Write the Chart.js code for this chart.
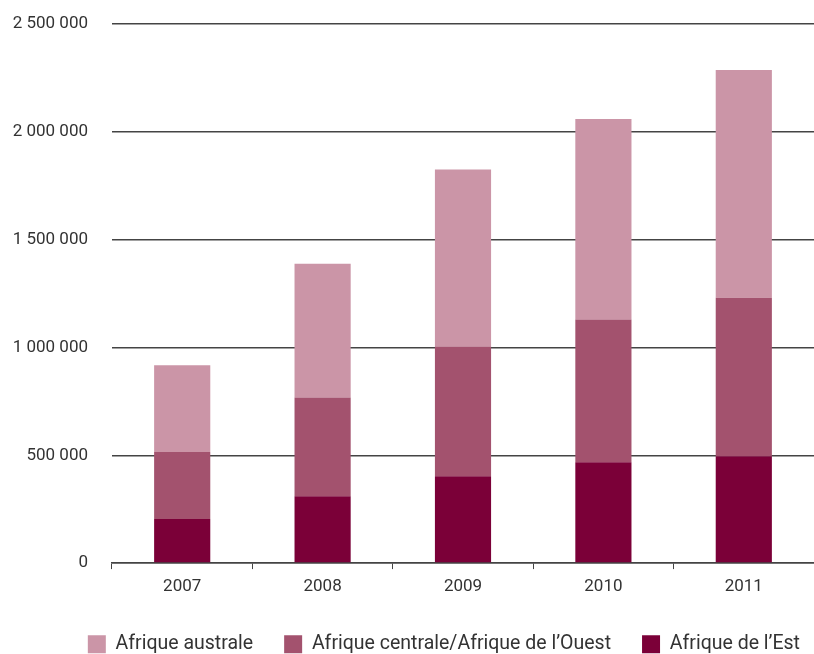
<!DOCTYPE html>
<html>
<head>
<meta charset="utf-8">
<script src="https://cdn.jsdelivr.net/npm/chart.js@4"></script>
<style>
  html, body { margin: 0; padding: 0; background: #fff; }
  #wrap { width: 814px; height: 654px; }
</style>
</head>
<body>
<div id="wrap"><canvas id="chart"></canvas></div>
<script>
const years = ["2007", "2008", "2009", "2010", "2011"];
const est = [205000, 310000, 403000, 468000, 495000];
const centrale = [310000, 458000, 602000, 662000, 736000];
const australe = [402000, 620000, 820000, 930000, 1056000];
const yTicks = [0, 500000, 1000000, 1500000, 2000000, 2500000];

const FONT = "'Liberation Sans Narrow', 'Arial Narrow', 'Roboto', sans-serif";

function fmt(v) {
    return String(v).replace(/\B(?=(\d{3})+(?!\d))/g, " ");
}

const data = {
    labels: years,
    datasets: [{
        label: "Afrique de l\u2019Est",
        data: est,
        backgroundColor: "#7b0038"
    }, {
        label: "Afrique centrale/Afrique de l\u2019Ouest",
        data: centrale,
        backgroundColor: "#a3526e"
    }, {
        label: "Afrique australe",
        data: australe,
        backgroundColor: "#cb95a7"
    }]
};

const config = {
    type: "bar",
    data: data,
    options: {
        responsive: true,
        maintainAspectRatio: false,
        animation: false,
        datasets: { bar: { barPercentage: 0.4, categoryPercentage: 1.0 } },
        layout: { padding: { top: 24, right: -17, left: 0, bottom: -10 } },
        plugins: {
            tooltip: { enabled: false },
            legend: {
                position: "bottom",
                align: "end",
                reverse: true,
                labels: {
                    boxWidth: 18,
                    boxHeight: 18,
                    padding: 31,
                    color: "#333",
                    font: { family: FONT, size: 19.5 }
                }
            }
        },
        scales: {
            x: {
                stacked: true,
                offset: true,
                grid: {
                    offset: true,
                    drawOnChartArea: false,
                    tickLength: 6,
                    color: "#444"
                },
                border: { color: "#444", width: 1.5 },
                ticks: {
                    color: "#333",
                    padding: 7,
                    font: { family: FONT, size: 17 }
                }
            },
            y: {
                stacked: true,
                min: 0,
                max: 2500000,
                afterBuildTicks: (axis) => { axis.ticks = yTicks.map(v => ({ value: v })); },
                afterFit: (axis) => { axis.width = 112; },
                grid: {
                    color: "#444",
                    lineWidth: 1.5,
                    drawTicks: true,
                    tickLength: 24,
                    tickColor: "rgba(0,0,0,0)"
                },
                border: { display: false },
                ticks: {
                    color: "#333",
                    padding: 0,
                    font: { family: FONT, size: 17 },
                    callback: (v) => fmt(v)
                }
            }
        }
    }
};

new Chart(document.getElementById("chart"), config);
</script>
</body>
</html>
